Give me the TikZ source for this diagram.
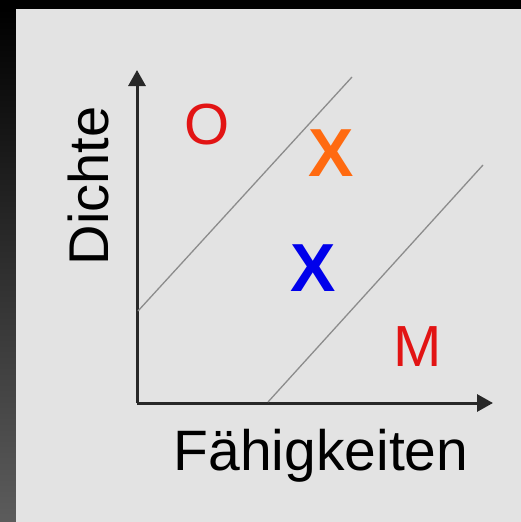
\documentclass[tikz,border=0pt]{standalone}
\usepackage{fontspec}
\setmainfont{Liberation Sans}
\usepackage{xcolor}
\usepackage{tikz}
\usetikzlibrary{arrows.meta,positioning}
\definecolor{panelgray}{RGB}{227,227,227}
\definecolor{stripegray}{RGB}{92,92,92}
\definecolor{axisgray}{RGB}{40,40,40}
\definecolor{linegray}{RGB}{140,140,140}
\definecolor{markred}{RGB}{226,20,20}
\definecolor{xorange}{RGB}{255,106,16}
\definecolor{xblue}{RGB}{0,0,235}

\begin{document}
\begin{tikzpicture}[
  x=1pt, y=-1pt,
  axis/.style={draw=axisgray, line width=3pt, -{Triangle[length=16pt,width=17pt]}},
  bound/.style={draw=linegray, line width=1.3pt},
  letter/.style={inner sep=0pt, text=markred, font=\fontsize{58}{60}\selectfont},
  cross/.style={inner sep=0pt, font=\fontsize{68}{70}\selectfont\bfseries},
  caption/.style={inner sep=0pt, font=\fontsize{57}{60}\selectfont}]
\useasboundingbox (0,0) rectangle (521,522);
% backdrop
\fill[black] (0,0) rectangle (521,522);
\shade[top color=black, bottom color=stripegray] (0,9) rectangle (16,522);
\fill[panelgray] (16,9) rectangle (521,522);
% axes
\coordinate (orig) at (137,403);
\coordinate (ytip) at (137,70);
\coordinate (xtip) at (493,403);
\draw[axis] (orig)--(ytip); \draw[axis] (orig)--(xtip);
% boundaries
\coordinate (upA) at (138,311); \coordinate (upB) at (352,77);
\coordinate (loA) at (268,402); \coordinate (loB) at (483,165);
\draw[bound] (upA)--(upB); \draw[bound] (loA)--(loB);
% regions
\node[letter] (omark) at (207,125) {O};
\node[letter] (mmark) at (418,347) {M};
\node[cross, text=xorange] (xhigh) at (331,153) {X};
\node[cross, text=xblue] (xmid) at (313,268) {X};
% axis titles
\node[caption, anchor=base] (xlabel) at (321,470) {Fähigkeiten};
\node[caption, anchor=base, rotate=90, font=\fontsize{56}{60}\selectfont] (ylabel) at (108,186) {Dichte};
\end{tikzpicture}
\end{document}
